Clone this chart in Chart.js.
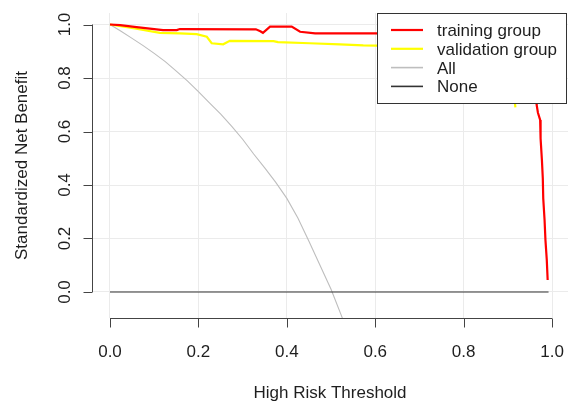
<!DOCTYPE html>
<html>
<head>
<meta charset="utf-8">
<script src="https://cdn.jsdelivr.net/npm/chart.js@4.4.1/dist/chart.umd.min.js"></script>
<style>
html,body{margin:0;padding:0;background:#fff;overflow:hidden;}
canvas{display:block;}
</style>
</head>
<body>
<canvas id="c" width="568" height="403"></canvas>
<script>
// ---- data ----
const seriesNames = ["training group", "validation group", "All", "None"];
const trainX = [0, 0.023, 0.06, 0.12, 0.151, 0.158, 0.33, 0.34, 0.346, 0.362, 0.411, 0.43, 0.464, 0.6, 0.7, 0.8, 0.9, 0.95, 0.96, 0.965, 0.968, 0.973, 0.974, 0.977, 0.979, 0.98, 0.983, 0.985, 0.988, 0.99];
const trainY = [1.0, 0.998, 0.99, 0.979, 0.979, 0.983, 0.982, 0.975, 0.969, 0.992, 0.992, 0.973, 0.967, 0.967, 0.965, 0.963, 0.96, 0.955, 0.85, 0.70, 0.67, 0.643, 0.574, 0.493, 0.425, 0.35, 0.269, 0.194, 0.12, 0.045];
const validX = [0, 0.053, 0.113, 0.158, 0.196, 0.219, 0.23, 0.256, 0.271, 0.37, 0.38, 0.452, 0.52, 0.573, 0.603, 0.7, 0.8, 0.88, 0.91, 0.917];
const validY = [1.0, 0.986, 0.969, 0.967, 0.964, 0.954, 0.93, 0.926, 0.939, 0.938, 0.934, 0.93, 0.926, 0.922, 0.921, 0.915, 0.91, 0.9, 0.8, 0.69];
const allX = [0, 0.025, 0.05, 0.075, 0.1, 0.125, 0.15, 0.175, 0.2, 0.225, 0.25, 0.275, 0.3, 0.325, 0.35, 0.375, 0.4, 0.425, 0.45, 0.475, 0.5, 0.525, 0.55];
const allY = [1.0, 0.975, 0.948, 0.921, 0.892, 0.861, 0.826, 0.789, 0.749, 0.707, 0.666, 0.62, 0.571, 0.516, 0.464, 0.41, 0.35, 0.277, 0.19, 0.1, 0.01, -0.095, -0.21];
const noneX = [0, 0.992];
const noneY = [0, 0];
const xTickValues = [0, 0.2, 0.4, 0.6, 0.8, 1.0];
const xTickLabels = ["0.0", "0.2", "0.4", "0.6", "0.8", "1.0"];
const yTickValues = [0, 0.2, 0.4, 0.6, 0.8, 1.0];
const yTickLabels = ["0.0", "0.2", "0.4", "0.6", "0.8", "1.0"];
const xTitle = "High Risk Threshold";
const yTitle = "Standardized Net Benefit";

const FONT = '"Liberation Sans", Arial, sans-serif';
const TXT = '#1e1e1e';

function pts(xs, ys){ return xs.map((x,i)=>({x:x, y:ys[i]})); }

const colors = ['#ff0000', '#ffff00', '#bebebe', '#333333'];
const widths = [2.2, 2.2, 1.1, 1.1];

const datasets = [
  {label: seriesNames[0], data: pts(trainX, trainY)},
  {label: seriesNames[1], data: pts(validX, validY)},
  {label: seriesNames[2], data: pts(allX, allY)},
  {label: seriesNames[3], data: pts(noneX, noneY)}
].map((d,i)=>Object.assign(d, {
  borderColor: colors[i], backgroundColor: colors[i], borderWidth: widths[i],
  pointRadius: 0, tension: 0, fill: false
}));
datasets[0].order = 2; datasets[1].order = 3; datasets[2].order = 4; datasets[3].order = 1;

const rPlot = {
  id: 'rplot',
  afterDraw(chart){
    const ctx = chart.ctx, xs = chart.scales.x, ys = chart.scales.y;
    const ca = chart.chartArea;
    ctx.save();
    ctx.strokeStyle = '#444'; ctx.lineWidth = 1;
    // x axis
    const ax = Math.round(ca.bottom) + 0.5;
    ctx.beginPath();
    ctx.moveTo(xs.getPixelForValue(xTickValues[0]), ax);
    ctx.lineTo(xs.getPixelForValue(xTickValues[xTickValues.length-1]), ax);
    xTickValues.forEach(v=>{ const px = Math.round(xs.getPixelForValue(v))+0.5; ctx.moveTo(px, ax); ctx.lineTo(px, ax+9); });
    ctx.stroke();
    // y axis
    const ay = Math.round(ca.left) + 0.5;
    ctx.beginPath();
    ctx.moveTo(ay, ys.getPixelForValue(yTickValues[0]));
    ctx.lineTo(ay, ys.getPixelForValue(yTickValues[yTickValues.length-1]));
    yTickValues.forEach(v=>{ const py = Math.round(ys.getPixelForValue(v))+0.5; ctx.moveTo(ay, py); ctx.lineTo(ay-9, py); });
    ctx.stroke();
    // tick labels
    ctx.fillStyle = TXT; ctx.font = '17px ' + FONT;
    ctx.textAlign = 'center'; ctx.textBaseline = 'alphabetic';
    xTickValues.forEach((v,i)=>{ ctx.fillText(xTickLabels[i], xs.getPixelForValue(v), ax + 38); });
    yTickValues.forEach((v,i)=>{
      ctx.save(); ctx.translate(ay - 23, ys.getPixelForValue(v)); ctx.rotate(-Math.PI/2);
      ctx.fillText(yTickLabels[i], 0, 0); ctx.restore();
    });
    // titles
    ctx.fillText(xTitle, (ca.left + ca.right)/2, 398);
    ctx.save(); ctx.translate(27, (ca.top + ca.bottom)/2); ctx.rotate(-Math.PI/2); ctx.fillText(yTitle, 0, 0); ctx.restore();
    // legend
    const lx = 377.5, ly = 13.5, lw = 189, lh = 90;
    ctx.fillStyle = '#fff'; ctx.fillRect(lx, ly, lw, lh);
    ctx.strokeStyle = '#333'; ctx.lineWidth = 1; ctx.strokeRect(lx, ly, lw, lh);
    ctx.textAlign = 'left';
    chart.data.datasets.forEach((d,i)=>{
      const ry = 30 + i*18.8;
      ctx.strokeStyle = d.borderColor; ctx.lineWidth = (i < 2) ? 2.2 : 1.6;
      ctx.beginPath(); ctx.moveTo(391, ry); ctx.lineTo(423, ry); ctx.stroke();
      ctx.fillStyle = TXT; ctx.fillText(d.label, 437, ry + 6);
    });
    ctx.restore();
  }
};

new Chart(document.getElementById('c'), {
  type: 'line',
  data: { datasets: datasets },
  options: {
    responsive: false, animation: false, devicePixelRatio: 1,
    layout: { padding: { top: 13, right: 0, left: 0, bottom: 0 } },
    plugins: { legend: { display: false }, tooltip: { enabled: false } },
    scales: {
      x: {
        type: 'linear', min: -0.0407, max: 1.036,
        afterBuildTicks: s => { s.ticks = xTickValues.map(v=>({value:v})); },
        afterFit: s => { s.height = 85; },
        ticks: { display: false },
        grid: { color: '#ebebeb', lineWidth: 1, drawTicks: false },
        border: { display: false }
      },
      y: {
        type: 'linear', min: -0.0972, max: 1.043,
        afterBuildTicks: s => { s.ticks = yTickValues.map(v=>({value:v})); },
        afterFit: s => { s.width = 92; },
        ticks: { display: false },
        grid: { color: '#ebebeb', lineWidth: 1, drawTicks: false },
        border: { display: false }
      }
    }
  },
  plugins: [rPlot]
});
</script>
</body>
</html>
